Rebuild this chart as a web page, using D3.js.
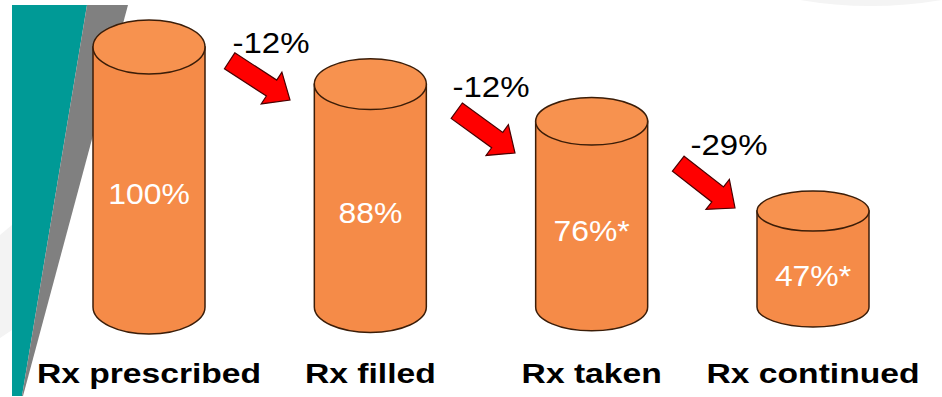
<!DOCTYPE html>
<html><head><meta charset="utf-8">
<script src="https://cdn.jsdelivr.net/npm/d3@7"></script>
<style>html,body{margin:0;padding:0;background:#fff;}svg{display:block;}</style>
</head><body>
<script>
// ---- data ----
const categories = ["Rx prescribed", "Rx filled", "Rx taken", "Rx continued"];
const values = [100, 88, 76, 47];
const valueLabels = ["100%", "88%", "76%*", "47%*"];
const changeLabels = ["-12%", "-12%", "-29%"];

// ---- layout ----
const W = 942, H = 397;
const svg = d3.select("body").append("svg").attr("width", W).attr("height", H);

// background decor
svg.append("polygon").attr("points", "0,235 12,225 12,330 0,338").attr("fill", "#f3f3f3");
svg.append("path").attr("d", "M800,0 Q870,12 942,0 Z").attr("fill", "#f4f4f4");
svg.append("polygon").attr("points", "12,5 87,5 22,396 12,396").attr("fill", "#009a96");
svg.append("polygon").attr("points", "87,5 128,5 23,396 22,396").attr("fill", "#808080");

const x = d3.scalePoint().domain(categories).range([149, 813]);
const bottomY = 307;
const y = d3.scaleLinear().domain([16, 100]).range([bottomY, 47]);
const ry = d3.scaleLinear().domain([47, 100]).range([20, 27]);
const rx = 56;

const bodyColor = "#f58b48", topColor = "#f7924f", stroke = "#3b1d08";

const cyl = svg.selectAll("g.cyl").data(categories).join("g").attr("class", "cyl");
cyl.append("path")
  .attr("d", (c, i) => {
    const cx = x(c), t = y(values[i]), r = ry(values[i]);
    return `M${cx - rx},${t} L${cx - rx},${bottomY} A${rx},${r} 0 0 0 ${cx + rx},${bottomY} L${cx + rx},${t} Z`;
  })
  .attr("fill", bodyColor).attr("stroke", stroke).attr("stroke-width", 1.5);
cyl.append("ellipse")
  .attr("cx", c => x(c)).attr("cy", (c, i) => y(values[i]))
  .attr("rx", rx).attr("ry", (c, i) => ry(values[i]))
  .attr("fill", topColor).attr("stroke", stroke).attr("stroke-width", 1.5);
cyl.append("text")
  .attr("transform", (c, i) => `translate(${x(c)},${(y(values[i]) + bottomY) / 2 + 27}) scale(1.1,1)`)
  .attr("text-anchor", "middle")
  .attr("font-family", "Liberation Sans, Arial, sans-serif")
  .attr("font-size", 29).attr("fill", "#fff")
  .text((c, i) => valueLabels[i]);
cyl.append("text")
  .attr("transform", c => `translate(${x(c)},383) scale(1.18,1)`)
  .attr("text-anchor", "middle")
  .attr("font-family", "Liberation Sans, Arial, sans-serif")
  .attr("font-weight", "bold")
  .attr("font-size", 28.5).attr("fill", "#000")
  .text(c => c);

// arrows between cylinders
const arrowLayout = [
  { tx: 290, ty: 100, ang: 33, lx: 271, ly: 53 },
  { tx: 515, ty: 153, ang: 36, lx: 491, ly: 97 },
  { tx: 735, ty: 208, ang: 38, lx: 729, ly: 155 }
];
const L = 72, sw = 9.5, hw = 19, hl = 22;
const arrowPts = [[-L, -sw], [-hl, -sw], [-hl, -hw], [0, 0], [-hl, hw], [-hl, sw], [-L, sw]];
const ag = svg.selectAll("g.arr").data(changeLabels).join("g").attr("class", "arr");
ag.append("polygon")
  .attr("transform", (d, i) => `translate(${arrowLayout[i].tx},${arrowLayout[i].ty}) rotate(${arrowLayout[i].ang})`)
  .attr("points", arrowPts.map(p => p.join(",")).join(" "))
  .attr("fill", "#ff0000").attr("stroke", "#4a0000").attr("stroke-width", 1.2).attr("stroke-linejoin", "miter");
ag.append("text")
  .attr("transform", (d, i) => `translate(${arrowLayout[i].lx},${arrowLayout[i].ly}) scale(1.1,1)`)
  .attr("text-anchor", "middle")
  .attr("font-family", "Liberation Sans, Arial, sans-serif")
  .attr("font-size", 30).attr("fill", "#000")
  .text(d => d);
</script>
</body></html>
